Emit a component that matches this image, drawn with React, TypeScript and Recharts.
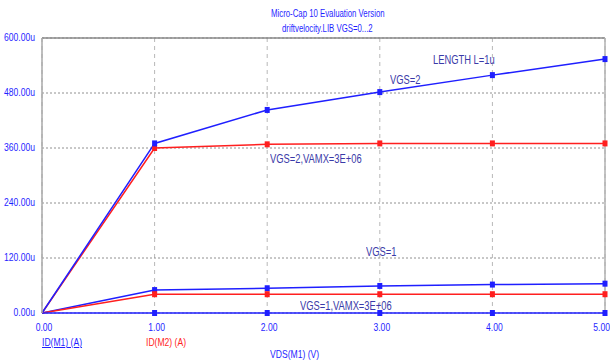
import React from 'react';
import { LineChart, Line, XAxis, YAxis, CartesianGrid, ReferenceLine } from 'recharts';

// VDS sweep points (V) and drain currents (uA)
const vds = [0, 1, 2, 3, 4, 5];
const m1Vgs2 = [0, 370, 443, 482, 519, 554];
const m2Vgs2 = [0, 360, 368, 370, 370, 370];
const m1Vgs1 = [0, 50, 54, 59, 62, 64];
const m2Vgs1 = [0, 41, 41, 41, 41, 41];
const m1Vgs0 = [0, 0, 0, 0, 0, 0];
const yTicks = [0, 120, 240, 360, 480, 600];

const data = vds.map((x, i) => ({
  x,
  m1Vgs2: m1Vgs2[i],
  m2Vgs2: m2Vgs2[i],
  m1Vgs1: m1Vgs1[i],
  m2Vgs1: m2Vgs1[i],
  m1Vgs0: m1Vgs0[i],
}));

const BLUE = '#1f1fff';
const RED = '#ff1f1f';
const LABEL = '#3a3aa8';
const FONT = 'Arial, "Liberation Sans", sans-serif';
const SQUEEZE = 0.78;

const squareDot = (color: string) => (props: any) => {
  const { cx, cy, index } = props;
  if (cx == null || cy == null || index === 0) return <g key={`d${index}`} />;
  return <rect key={`d${index}`} x={cx - 2.5} y={cy - 3} width={5} height={6} fill={color} />;
};

// narrow tick labels, like the simulator's condensed font
const XTick = (props: any) => {
  const { x, y, payload, index } = props;
  const last = index === vds.length - 1;
  return (
    <g transform={`translate(${last ? x + 5 : x + 2},${y + 2}) scale(${SQUEEZE},1)`}>
      <text x={0} y={0} dy={8} textAnchor={last ? 'end' : 'middle'} fontSize={11} fill={BLUE} fontFamily={FONT}>
        {Number(payload.value).toFixed(2)}
      </text>
    </g>
  );
};

const YTick = (props: any) => {
  const { x, y, payload } = props;
  return (
    <g transform={`translate(${x + 1},${y}) scale(${SQUEEZE},1)`}>
      <text x={0} y={0} dy={3} textAnchor="end" fontSize={11} fill={BLUE} fontFamily={FONT}>
        {Number(payload.value).toFixed(2) + 'u'}
      </text>
    </g>
  );
};

const text = (left: number, top: number, s: string, color = LABEL, extra: any = {}) => (
  <div
    style={{
      position: 'absolute',
      left,
      top,
      fontFamily: FONT,
      fontSize: 12,
      color,
      whiteSpace: 'nowrap',
      lineHeight: 1,
      transform: `scaleX(${SQUEEZE})`,
      transformOrigin: 'left top',
      ...extra,
    }}
  >
    {s}
  </div>
);

export default function App() {
  return (
    <div style={{ position: 'absolute', left: 0, top: 0, width: 610, height: 364, background: '#fff' }}>
      <LineChart width={610} height={364} data={data} margin={{ top: 38, right: 5, left: 0, bottom: 0 }}>
        <CartesianGrid horizontal={false} stroke="#b8b8b8" strokeDasharray="4 4" />
        <CartesianGrid vertical={false} stroke="#909090" strokeDasharray="2 2" />
        <XAxis
          dataKey="x"
          type="number"
          domain={[0, 5]}
          ticks={vds}
          height={51}
          axisLine={false}
          tickLine={false}
          tick={<XTick />}
        />
        <YAxis
          type="number"
          domain={[0, 600]}
          ticks={yTicks}
          width={42}
          axisLine={{ stroke: '#a8a8a8', strokeWidth: 1.5 }}
          tickLine={false}
          tick={<YTick />}
        />
        <ReferenceLine y={600} stroke="#8a8a8a" strokeWidth={1.5} />
        <ReferenceLine x={5} stroke="#b0b0b0" strokeWidth={1.5} />
        <Line dataKey="m2Vgs2" stroke={RED} strokeWidth={1.5} dot={squareDot(RED)} isAnimationActive={false} />
        <Line dataKey="m1Vgs2" stroke={BLUE} strokeWidth={1.5} dot={squareDot(BLUE)} isAnimationActive={false} />
        <Line dataKey="m1Vgs1" stroke={BLUE} strokeWidth={1.5} dot={squareDot(BLUE)} isAnimationActive={false} />
        <Line dataKey="m2Vgs1" stroke={RED} strokeWidth={1.5} dot={squareDot(RED)} isAnimationActive={false} />
        <Line dataKey="m1Vgs0" stroke={BLUE} strokeWidth={1.5} dot={squareDot(BLUE)} isAnimationActive={false} />
      </LineChart>

      {text(271, 9, 'Micro-Cap 10 Evaluation Version', BLUE, { fontSize: 10 })}
      {text(282, 24, 'driftvelocity.LIB VGS=0...2', BLUE, { fontSize: 10 })}

      {text(433, 54, 'LENGTH L=1u')}
      {text(390, 74, 'VGS=2')}
      {text(270, 153, 'VGS=2,VAMX=3E+06')}
      {text(366, 246, 'VGS=1')}
      {text(300, 300, 'VGS=1,VAMX=3E+06')}

      {text(42, 337, 'ID(M1) (A)', BLUE, { fontSize: 11, textDecoration: 'underline' })}
      {text(146, 337, 'ID(M2) (A)', RED, { fontSize: 11 })}
      {text(270, 349, 'VDS(M1) (V)', BLUE, { fontSize: 11 })}
    </div>
  );
}
